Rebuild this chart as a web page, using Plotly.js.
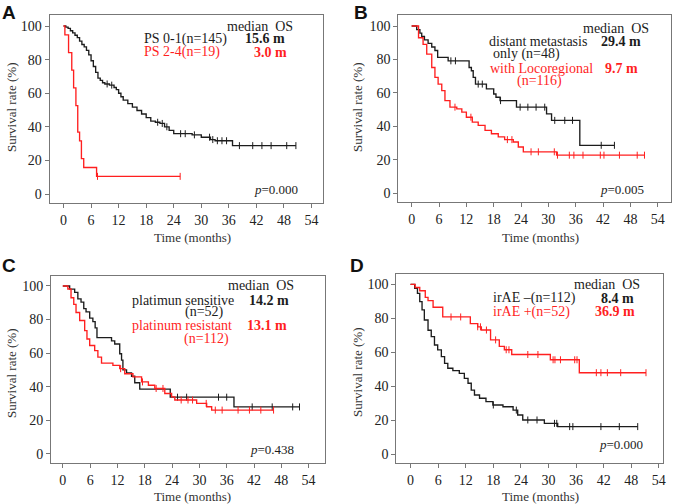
<!DOCTYPE html>
<html><head><meta charset="utf-8">
<script src="https://cdn.plot.ly/plotly-3.0.1.min.js"></script>
<style>body{margin:0;background:#fff}#c{width:677px;height:504px}</style>
</head><body><div id="c"></div>
<script>
// ---------- DATA ----------
const xTicks = [0,6,12,18,24,30,36,42,48,54];
const yTicks = [0,20,40,60,80,100];

// Panel A: PS 0-1 (black), PS 2-4 (red)
const aBlackTime = [0,0.5,1.0,1.5,2.0,2.5,3.0,3.5,4.0,4.5,5.0,5.5,6.0,6.5,7.0,7.5,8.0,8.5,9.0,10.0,11.0,11.5,12.0,12.5,13.0,14.0,15.0,16.0,17.0,18.0,19.0,20.0,21.0,22.0,23.0,24.0,28.0,30.0,32.0,33.0,36.8,50.6];
const aBlackSurv = [100,99.3,98.6,97.2,95.9,94.5,93.1,91.0,89.0,87.6,85.5,82.8,79.3,75.9,72.4,69.0,67.6,66.2,65.5,64.8,63.4,62.1,60.0,57.9,55.9,53.8,51.7,49.7,47.6,45.5,43.4,42.7,42.0,40.0,37.9,35.9,35.2,33.8,32.4,31.7,28.8,28.8];
const aBlackCens = [9.5,10.5,20.5,21.5,22.5,25.5,26.5,28.5,31.8,32.5,33.5,34.5,35.5,38.3,41.2,43.2,45.2,48.6,50.6];
const aRedTime = [0,0.3,1.1,1.8,2.2,2.7,3.1,3.5,3.9,4.4,7.2,25.4];
const aRedSurv = [100,94.7,84.2,73.7,63.2,52.6,36.8,31.6,21.1,15.8,10.5,10.5];
const aRedCens = [7.4,25.4];

// Panel B: distant metastasis only (black), with locoregional (red)
const bBlackTime = [0,1.1,1.8,2.2,2.8,3.6,4.4,5.1,5.7,8.0,12.6,13.1,13.5,14.0,16.4,18.0,18.5,19.4,23.0,29.6,30.7,36.9,44.5];
const bBlackSurv = [100,97.9,95.8,93.8,91.7,89.6,87.5,85.4,81.3,79.2,75.2,73.3,69.3,65.3,62.4,59.4,57.4,55.4,51.5,47.5,43.6,28.7,28.7];
const bBlackCens = [8.6,9.6,14.6,15.5,19.5,23.8,25.5,27.3,29.2,31.4,33.6,35.3,41.6,44.5];
const bRedTime = [0,1.5,2.5,3.3,4.4,5.1,5.8,6.6,7.3,8.4,9.9,11.0,12.0,13.3,14.6,16.1,17.5,19.0,20.4,22.3,23.4,24.5,31.8,51.1];
const bRedSurv = [100,93.0,89.0,83.2,75.2,69.3,65.3,61.4,55.4,51.5,50.5,48.5,45.5,42.6,40.6,37.6,35.6,33.7,32.1,30.7,27.7,24.8,22.8,22.8];
const bRedCens = [9.5,13.0,21.0,22.0,26.2,27.8,31.3,32.0,34.6,35.6,37.6,41.4,42.2,45.6,49.5,51.1];

// Panel C: platinum sensitive (black), platinum resistant (red)
const cBlackTime = [0,1.5,2.6,3.3,4.0,4.6,5.1,5.9,6.6,7.1,7.5,10.7,11.4,12.5,12.9,13.2,14.0,15.1,15.8,16.9,23.6,37.6,52.0];
const cBlackSurv = [100,98.1,96.2,92.3,90.4,86.5,84.6,80.8,78.8,75.0,69.2,67.3,65.4,59.6,55.8,50.0,48.1,46.2,42.3,38.5,33.7,27.9,27.9];
const cBlackCens = [25.2,27.2,34.2,36.0,41.6,46.0,50.5,52.0];
const cRedTime = [0,1.1,1.8,2.4,2.9,3.7,4.8,5.3,5.9,7.0,7.7,8.5,11.0,12.5,13.6,15.4,17.3,18.8,20.2,22.4,23.9,24.6,29.4,31.6,32.7,46.3];
const cRedSurv = [100,98.2,93.0,89.0,84.2,79.4,73.4,68.4,64.5,61.5,57.6,54.0,52.7,50.7,47.7,45.8,42.8,40.8,38.9,35.9,33.9,32.0,30.0,28.0,26.0,26.0];
const cRedCens = [12.7,17.5,20.5,22.0,26.0,27.5,28.5,31.5,33.5,35.0,38.5,41.0,43.5,46.3];

// Panel D: irAE - (black), irAE + (red)
const dBlackTime = [0,0.9,1.5,2.0,2.5,3.0,3.8,4.5,5.2,5.9,6.7,7.4,8.1,9.2,10.6,11.7,12.5,13.2,13.9,15.0,16.4,17.9,20.1,22.3,23.3,24.4,29.1,32.0,49.4];
const dBlackSurv = [100,97.6,94.7,89.8,85.0,79.0,73.0,69.2,64.3,61.4,57.5,53.5,50.6,49.2,47.6,44.7,41.8,37.8,34.9,33.0,31.0,29.0,28.0,26.0,23.1,20.2,18.2,16.3,16.3];
const dBlackCens = [18.0,23.0,25.5,27.5,31.3,31.8,34.6,35.3,41.4,45.4,49.4];
const dRedTime = [0,1.0,2.0,3.2,3.8,4.9,7.0,13.0,14.6,15.4,17.4,19.3,20.4,22.0,30.4,36.7,51.2];
const dRedSurv = [100,98.1,96.2,92.3,90.4,86.5,80.8,76.9,75.0,73.1,67.3,63.5,61.5,58.7,55.6,48.0,48.0];
const dRedCens = [8.8,10.9,14.6,15.2,16.5,18.5,20.8,21.4,25.5,27.7,31.0,31.4,32.6,35.7,36.2,40.4,41.4,42.8,45.7,51.2];

// ---------- DRAWING ----------
const BLACK = '#1c1c1c', RED = '#ff1f1f';
const SERIF = 'Liberation Serif, Times New Roman, serif';
const NB = '\u00a0';

function survAt(times, surv, t){
  let v = surv[0];
  for (let i=0;i<times.length;i++){ if (times[i] <= t) v = surv[i]; }
  return v;
}
const traces = [];
function addCurve(times, surv, cens, color, n){
  const xa = n===1 ? 'x' : 'x'+n, ya = n===1 ? 'y' : 'y'+n;
  traces.push({x:times, y:surv, xaxis:xa, yaxis:ya, type:'scatter', mode:'lines',
    line:{shape:'hv', color:color, width:1.35}, hoverinfo:'skip', showlegend:false});
  traces.push({x:cens, y:cens.map(t=>survAt(times,surv,t)), xaxis:xa, yaxis:ya, type:'scatter', mode:'markers',
    marker:{symbol:'line-ns', size:5, color:color, line:{color:color, width:1}}, hoverinfo:'skip', showlegend:false});
}
addCurve(aBlackTime,aBlackSurv,aBlackCens,BLACK,1);
addCurve(aRedTime,aRedSurv,aRedCens,RED,1);
addCurve(bBlackTime,bBlackSurv,bBlackCens,BLACK,2);
addCurve(bRedTime,bRedSurv,bRedCens,RED,2);
addCurve(cBlackTime,cBlackSurv,cBlackCens,BLACK,3);
addCurve(cRedTime,cRedSurv,cRedCens,RED,3);
addCurve(dBlackTime,dBlackSurv,dBlackCens,BLACK,4);
addCurve(dRedTime,dRedSurv,dRedCens,RED,4);

const W=677, H=504;
function xd(l,r){return [l/W, r/W];}
function yd(t,b){return [1-b/H, 1-t/H];}
function xax(dom, range, anchor){
  return {domain:dom, range:range, anchor:anchor, tickmode:'array', tickvals:xTicks, ticktext:xTicks.map(String),
    ticks:'outside', ticklen:4, tickwidth:1, tickcolor:'#777', showline:true, linecolor:'#777', linewidth:1,
    mirror:true, showgrid:false, zeroline:false, fixedrange:true,
    tickfont:{family:SERIF, size:14, color:'#222'}};
}
function yax(dom, range, anchor){
  return {domain:dom, range:range, anchor:anchor, tickmode:'array', tickvals:yTicks, ticktext:yTicks.map(String),
    ticks:'outside', ticklen:4, tickwidth:1, tickcolor:'#777', showline:true, linecolor:'#777', linewidth:1,
    mirror:true, showgrid:false, zeroline:false, fixedrange:true,
    tickfont:{family:SERIF, size:14, color:'#222'}};
}

const ann = [];
function txt(xref, yref, x, y, text, color, anchor, size, extra){
  ann.push(Object.assign({xref:xref, yref:yref, x:x, y:y, text:text, showarrow:false,
    xanchor:anchor, yanchor:'middle', borderpad:0, font:{family:SERIF, size:size||14, color:color}}, extra||{}));
}
function ptxt(px, py, text, size, extra){
  ann.push(Object.assign({xref:'paper', yref:'paper', x:px/W, y:1-py/H, text:text, showarrow:false,
    xanchor:'center', yanchor:'middle', font:{family:SERIF, size:size||13, color:'#333'}}, extra||{}));
}
// Panel letters
[['A',9,12],['B',361,12],['C',9,265],['D',357,265]].forEach(p=>{
  ann.push({xref:'paper', yref:'paper', x:p[1]/W, y:1-p[2]/H, text:'<b>'+p[0]+'</b>', showarrow:false,
    xanchor:'center', yanchor:'middle', font:{family:'Liberation Sans, Arial, sans-serif', size:19, color:'#111'}});
});
// axis titles
ptxt(192,237,'Time (months)',13); ptxt(540,237,'Time (months)',13);
ptxt(192,496,'Time (months)',13); ptxt(540,496,'Time (months)',13);
ptxt(11,107,'Survival rate (%)',13,{textangle:-90}); ptxt(357,107,'Survival rate (%)',13,{textangle:-90});
ptxt(11,373,'Survival rate (%)',13,{textangle:-90}); ptxt(357,372,'Survival rate (%)',13,{textangle:-90});

const MED = 'median'+NB+NB+'OS';
// Panel A texts
txt('x','y',50.2,99.8,MED,BLACK,'right');
txt('x','y',17.3,92.3,'PS 0-1(n=145)',BLACK,'left');
txt('x','y',48.5,92.3,'<b>15.6 m</b>',BLACK,'right');
txt('x','y',17.3,84.5,'PS 2-4(n=19)',RED,'left');
txt('x','y',48.9,84.5,'<b>3.0 m</b>',RED,'right');
txt('x','y',51.2,2.4,'<i>p</i>=0.000',BLACK,'right',13);
// Panel B
txt('x2','y2',52.3,98.6,MED,BLACK,'right');
txt('x2','y2',16.7,90.6,'distant metastasis',BLACK,'left');
txt('x2','y2',50.5,90.6,'<b>29.4 m</b>',BLACK,'right');
txt('x2','y2',17.6,83.4,'only (n=48)',BLACK,'left');
txt('x2','y2',17.0,74.9,'with Locoregional',RED,'left');
txt('x2','y2',49.8,74.9,'<b>9.7 m</b>',RED,'right');
txt('x2','y2',23.0,67.0,'(n=116)',RED,'left');
txt('x2','y2',51.2,2.4,'<i>p</i>=0.005',BLACK,'right',13);
// Panel C
txt('x3','y3',51.1,100.3,MED,BLACK,'right');
txt('x3','y3',14.9,91.6,'platimun sensitive',BLACK,'left');
txt('x3','y3',50.0,91.6,'<b>14.2 m</b>',BLACK,'right');
txt('x3','y3',26.6,84.6,'(n=52)',BLACK,'left');
txt('x3','y3',14.9,76.3,'platinum resistant',RED,'left');
txt('x3','y3',49.4,76.3,'<b>13.1 m</b>',RED,'right');
txt('x3','y3',26.4,68.2,'(n=112)',RED,'left');
txt('x3','y3',51.0,2.8,'<i>p</i>=0.438',BLACK,'right',13);
// Panel D
txt('x4','y4',50.1,100.0,MED,BLACK,'right');
txt('x4','y4',17.7,91.8,'irAE \u2013(n=112)',BLACK,'left');
txt('x4','y4',48.9,91.8,'<b>8.4 m</b>',BLACK,'right');
txt('x4','y4',17.7,83.9,'irAE +(n=52)',RED,'left');
txt('x4','y4',49.1,83.9,'<b>36.9 m</b>',RED,'right');
txt('x4','y4',50.7,5.5,'<i>p</i>=0.000',BLACK,'right',13);

const layout = {
  width:W, height:H, margin:{l:0,r:0,t:0,b:0}, paper_bgcolor:'#fff', plot_bgcolor:'#fff', showlegend:false,
  xaxis:  xax(xd(49.5,323), [-3.05,56.5], 'y'),
  yaxis:  yax(yd(15,203), [-5.36,106.55], 'x'),
  xaxis2: xax(xd(398.3,670.7), [-2.94,56.85], 'y2'),
  yaxis2: yax(yd(15,202.3), [-5.38,106.6], 'x2'),
  xaxis3: xax(xd(51,325), [-2.6,57.6], 'y3'),
  yaxis3: yax(yd(276,463), [-5.55,105.96], 'x3'),
  xaxis4: xax(xd(396.3,663), [-3.1,54.9], 'y4'),
  yaxis4: yax(yd(274,463.3), [-5.29,106.06], 'x4'),
  annotations: ann
};
Plotly.newPlot('c', traces, layout, {staticPlot:true, displayModeBar:false});
</script>
</body></html>
